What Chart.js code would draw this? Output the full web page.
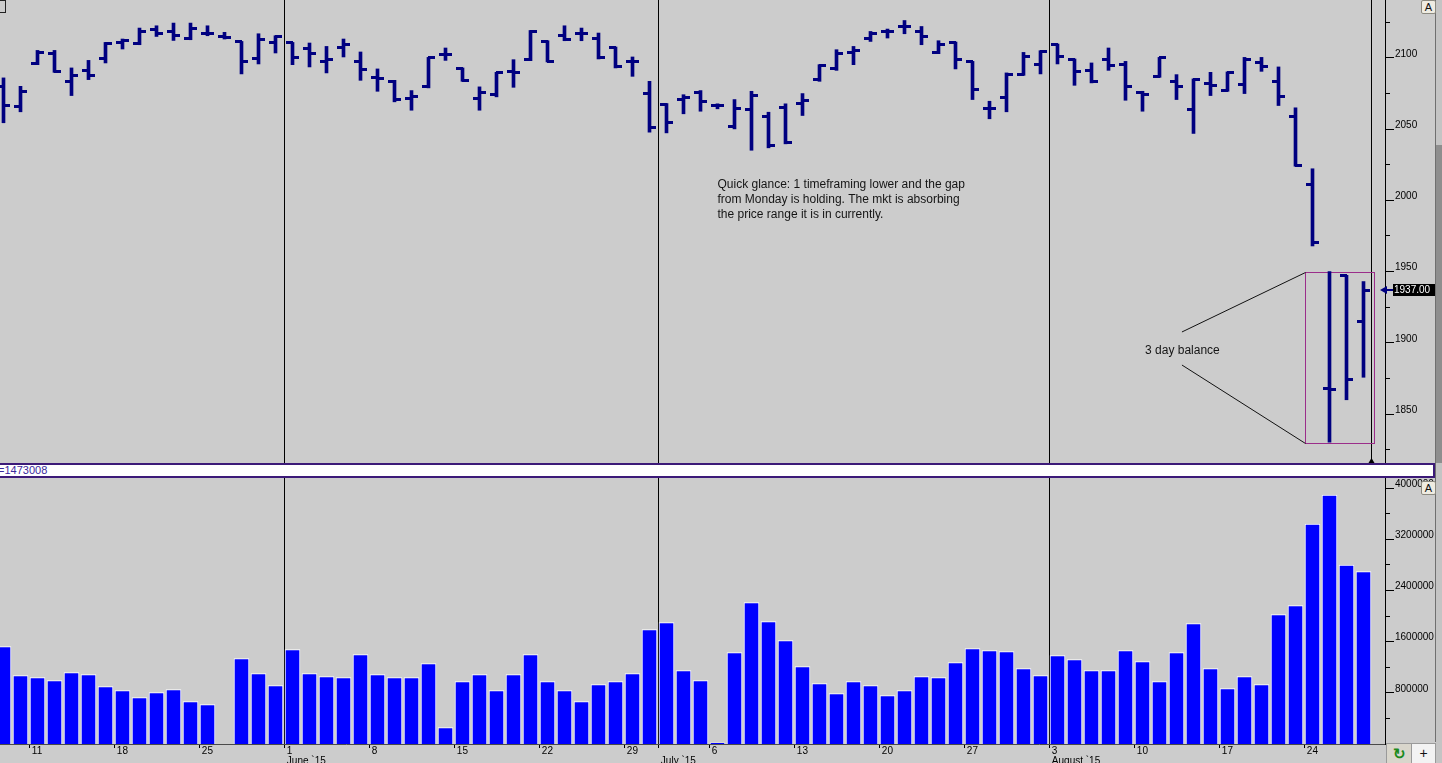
<!DOCTYPE html>
<html lang="en">
<head>
<meta charset="UTF-8">
<title>ES daily bars with volume</title>
<script src="https://cdn.jsdelivr.net/npm/chart.js@4.4.0/dist/chart.umd.min.js"></script>
<style>
  html, body { margin: 0; padding: 0; background: #cccccc; overflow: hidden; }
  body { width: 1442px; height: 763px; position: relative; font-family: 'Liberation Sans', Arial, sans-serif; }
  canvas { position: absolute; left: 0; }
  #priceChart { top: 0; }
  #volumeChart { top: 478px; }
  .divider {
    position: absolute; left: 0; top: 463px; width: 1433px; height: 11px;
    background: #fff; border: 2px solid #3c1a78; border-left: none;
    font-size: 11px; line-height: 11px; color: #3b2a9c; overflow: hidden; white-space: nowrap;
  }
  .divider span { position: relative; left: -2px; }
  .abtn {
    position: absolute; width: 13px; height: 12px; border: 1px solid #8c8a80; border-radius: 2px;
    background: #efece2; font-size: 11px; line-height: 12px; text-align: center; color: #111;
  }
  .corner { position: absolute; top: 743px; height: 19px; border: 1px solid #9a9a9a; text-align: center; line-height: 19px; }
  .refresh { left: 1386px; width: 24px; background: #d9d6cc; color: #1c8a1c; font-size: 15px; font-weight: bold; }
  .plus { left: 1411px; width: 23px; background: #f3f3f3; color: #111; font-size: 14px; }
  .edge { position: absolute; left: 1435px; top: 0; width: 1px; height: 742px; background: #6f6f6f; }
  .strip { position: absolute; left: 1436px; top: 0; width: 6px; height: 763px; background: #c4c4c4; }
  .strip-dark { position: absolute; left: 1436px; top: 145px; width: 6px; height: 318px; background: #8e8e8e; }
  .corner-mark { position: absolute; left: -3px; top: 0; width: 7px; height: 11px; border: 1px solid #222; }
</style>
</head>
<body>
<canvas id="priceChart" width="1442" height="463"></canvas>
<div class="divider"><span>=1473008</span></div>
<canvas id="volumeChart" width="1442" height="285"></canvas>
<div class="corner-mark"></div>
<div class="edge"></div>
<div class="strip"></div>
<div class="strip-dark"></div>
<div class="abtn" style="left:1421px; top:0;">A</div>
<div class="abtn" style="left:1421px; top:481px;">A</div>
<div class="corner refresh">&#8635;</div>
<div class="corner plus">+</div>

<script>
// trading days shown (one bar each)
const dates = [
  '2015-05-06','2015-05-07','2015-05-08',
  '2015-05-11','2015-05-12','2015-05-13','2015-05-14','2015-05-15',
  '2015-05-18','2015-05-19','2015-05-20','2015-05-21','2015-05-22',
  '2015-05-25','2015-05-26','2015-05-27','2015-05-28','2015-05-29',
  '2015-06-01','2015-06-02','2015-06-03','2015-06-04','2015-06-05',
  '2015-06-08','2015-06-09','2015-06-10','2015-06-11','2015-06-12',
  '2015-06-15','2015-06-16','2015-06-17','2015-06-18','2015-06-19',
  '2015-06-22','2015-06-23','2015-06-24','2015-06-25','2015-06-26',
  '2015-06-29','2015-06-30','2015-07-01','2015-07-02','2015-07-03',
  '2015-07-06','2015-07-07','2015-07-08','2015-07-09','2015-07-10',
  '2015-07-13','2015-07-14','2015-07-15','2015-07-16','2015-07-17',
  '2015-07-20','2015-07-21','2015-07-22','2015-07-23','2015-07-24',
  '2015-07-27','2015-07-28','2015-07-29','2015-07-30','2015-07-31',
  '2015-08-03','2015-08-04','2015-08-05','2015-08-06','2015-08-07',
  '2015-08-10','2015-08-11','2015-08-12','2015-08-13','2015-08-14',
  '2015-08-17','2015-08-18','2015-08-19','2015-08-20','2015-08-21',
  '2015-08-24','2015-08-25','2015-08-26'
];

const opens = [
  2080, 2065.7, 2096, 2102.8, 2083.6, 2091.1, 2099.5, 2111.2, 2110, 2120.3,
  2118.6, 2114, 2117, 2115, 2111.6, 2099.3, 2110.9, 2110.9, 2106.3, 2097.6,
  2107, 2097.2, 2086, 2083.6, 2071.3, 2079.7, 2102.3, 2092.5, 2071.3, 2074.3,
  2090.6, 2098.8, 2111.6, 2115.6, 2117.5, 2114, 2107.4, 2097.2, 2075, 2067.3,
  2071, 2075.5, 2066.8, 2051.6, 2063.8, 2058.7, 2065, 2067.8, 2084.8, 2092.3,
  2103.5, 2114, 2118.6, 2122.1, 2118.6, 2103.9, 2110.9, 2097.2, 2064.3, 2072,
  2088.3, 2095.3, 2109.3, 2098.8, 2091.3, 2098.8, 2095.3, 2075.5, 2086.7, 2083.6,
  2063.8, 2082, 2077.3, 2081.3, 2096.5, 2083.6, 2059.1, 2011.2, 1868, 1947,
  1914.7
];
const highs = [
  2086, 2080.1, 2105.3, 2105.3, 2093, 2098.3, 2110.9, 2113.3, 2121, 2122.6,
  2124.5, 2124.5, 2122.6, 2118, 2111.6, 2117, 2115.6, 2110.9, 2110.5, 2108.1,
  2113.3, 2104.2, 2092.3, 2084.3, 2077.1, 2100.4, 2107, 2093, 2079.7, 2089.9,
  2098.8, 2119.3, 2112.1, 2122.6, 2121, 2117.5, 2107.7, 2100.7, 2083.6, 2068,
  2074.2, 2077.1, 2067.8, 2070.8, 2076.6, 2061.9, 2067.8, 2075, 2095.3, 2105.8,
  2108.1, 2118.6, 2120.3, 2126.3, 2122.1, 2112.1, 2111.2, 2097.6, 2069.6, 2089.5,
  2103.9, 2105.1, 2109.8, 2099.3, 2096.5, 2107, 2097.6, 2076.6, 2100.4, 2088.3,
  2085.3, 2089.9, 2090.2, 2100.4, 2100.4, 2093.7, 2065, 2022.2, 1950, 1947.4,
  1943
];
const lows = [
  2054.5, 2062.2, 2095.3, 2089.9, 2073.6, 2084.8, 2096.5, 2106.3, 2109.3, 2115.1,
  2112.3, 2112.8, 2115.6, 2113.3, 2088.8, 2095.8, 2103.5, 2095.3, 2093.7, 2089.5,
  2100.7, 2084.3, 2076.6, 2069.2, 2063.3, 2079, 2098.3, 2083.6, 2063.3, 2072.7,
  2079.4, 2098.1, 2097.2, 2112.1, 2112.1, 2099.3, 2093, 2087.1, 2047.9, 2047.4,
  2060.8, 2062.6, 2064.3, 2050.2, 2035.2, 2036.9, 2039.7, 2059.6, 2083.6, 2091.3,
  2095.3, 2111.6, 2114, 2117, 2109.3, 2103, 2092.3, 2070.8, 2057.3, 2062.2,
  2087.8, 2088.8, 2095.8, 2080.8, 2082.5, 2091.3, 2070.3, 2062.6, 2086.4, 2070.8,
  2047, 2073.6, 2076.6, 2075, 2090.6, 2066.6, 2024, 1968, 1830.2, 1860,
  1875.8
];
const closes = [
  2066.8, 2076.6, 2103.5, 2090.2, 2087.6, 2087.6, 2110.5, 2112.1, 2118.6, 2117,
  2115.6, 2121, 2117, 2114.5, 2097.6, 2113.3, 2115.1, 2100, 2103, 2098.8,
  2109.3, 2091.8, 2085.5, 2070.8, 2072.7, 2100, 2102.3, 2084.3, 2075.9, 2089.5,
  2089.9, 2118.6, 2097.6, 2113.3, 2117.5, 2100, 2093.7, 2097.2, 2051, 2054.5,
  2072, 2069.6, 2066.8, 2064.5, 2073.6, 2038.5, 2040.4, 2070.3, 2094.6, 2103,
  2105.1, 2117, 2118.6, 2122.1, 2115.1, 2109.3, 2098.8, 2077.8, 2064.3, 2088.3,
  2101.1, 2104.6, 2101.1, 2090.6, 2083.2, 2094.8, 2079.7, 2074.3, 2100, 2079.7,
  2084.8, 2080.6, 2089.5, 2098.8, 2094.1, 2072.7, 2024.5, 1970.4, 1867, 1873.9,
  1937
];
const volumes = [
  1524000, 1071000, 1040000, 993000, 1118000, 1086000, 899000, 836000, 727000, 805000,
  852000, 664000, 617000, null, 1337000, 1102000, 915000, 1477000, 1102000, 1055000,
  1040000, 1399000, 1086000, 1040000, 1040000, 1258000, 258000, 977000, 1086000, 836000,
  1086000, 1399000, 977000, 836000, 664000, 930000, 977000, 1102000, 1790000, 1899000,
  1149000, 993000, 20000, 1430000, 2212000, 1915000, 1618000, 1212000, 946000, 789000,
  977000, 915000, 758000, 836000, 1055000, 1040000, 1274000, 1493000, 1462000, 1446000,
  1180000, 1071000, 1384000, 1321000, 1149000, 1149000, 1462000, 1290000, 977000, 1430000,
  1884000, 1180000, 868000, 1055000, 930000, 2024000, 2165000, 3438000, 3891000, 2797000,
  2697000
];

const priceTicks = [1825, 1850, 1875, 1900, 1925, 1950, 1975, 2000, 2025, 2050, 2075, 2100, 2125];
const volumeTicks = [400000, 800000, 1200000, 1600000, 2000000, 2400000, 2800000, 3200000, 3600000, 4000000];
const monthNames = ['January', 'February', 'March', 'April', 'May', 'June', 'July', 'August',
  'September', 'October', 'November', 'December'];

// axis ranges
const xMin = -3.5 / 17;
const xMax = xMin + 1385 / 17;
const priceMin = 1815.6, priceMax = 2140.7;
const volumeMax = 4160000;
const tickShift = 1.45;      // session boundary sits before the bar
const nowLine = 80.45;       // current-session marker

const barColor = '#000080';

Chart.defaults.font.family = "'Liberation Sans', Arial, sans-serif";
Chart.defaults.color = '#000';

// Monday and month-start ticks
const dateTicks = [];
dates.forEach((d, i) => {
  const dt = new Date(d + 'T00:00:00Z');
  const isMonday = dt.getUTCDay() === 1;
  const newMonth = i > 0 && dates[i - 1].slice(5, 7) !== d.slice(5, 7);
  if (!isMonday && !newMonth) return;
  const label = [isMonday ? String(dt.getUTCDate()) : ''];
  if (newMonth) label.push(monthNames[dt.getUTCMonth()] + ' `15');
  dateTicks.push({ value: i - tickShift, label: label, month: newMonth });
});
const priceLines = dateTicks.filter(t => t.month).map(t => t.value).concat([nowLine]);

// open / close tick marks as point images
function tickImage(side) {
  const c = document.createElement('canvas');
  c.width = 15; c.height = 3;
  const g = c.getContext('2d');
  g.fillStyle = barColor;
  if (side === 'left') g.fillRect(1, 0, 7, 3); else g.fillRect(7, 0, 7, 3);
  return c;
}
const openMark = tickImage('left');
const closeMark = tickImage('right');

// annotations drawn in data coordinates
const noteLines = [
  'Quick glance: 1 timeframing lower and the gap',
  'from Monday is holding. The mkt is absorbing',
  'the price range it is in currently.'
];
const noteAt = { x: 42, y: 2008.7 };
const balanceAt = { x: 67.15, y: 1894.6 };
const box = { from: 76.56, to: 80.62, high: 1950, low: 1829.6 };
const pointerStarts = [{ x: 69.32, y: 1907.6 }, { x: 69.32, y: 1884.4 }];

const priceNotes = {
  id: 'priceNotes',
  beforeDatasetsDraw(chart) {
    const { ctx, scales: { x, y } } = chart;
    const x1 = Math.round(x.getPixelForValue(box.from)) + 0.5;
    const x2 = Math.round(x.getPixelForValue(box.to)) + 0.5;
    const y1 = Math.round(y.getPixelForValue(box.high)) + 0.5;
    const y2 = Math.round(y.getPixelForValue(box.low)) + 0.5;
    ctx.save();
    ctx.strokeStyle = '#9b2d8a';
    ctx.lineWidth = 1;
    ctx.strokeRect(x1, y1, x2 - x1, y2 - y1);
    ctx.strokeStyle = '#111';
    ctx.beginPath();
    ctx.moveTo(x.getPixelForValue(pointerStarts[0].x), y.getPixelForValue(pointerStarts[0].y));
    ctx.lineTo(x1, y1);
    ctx.moveTo(x.getPixelForValue(pointerStarts[1].x), y.getPixelForValue(pointerStarts[1].y));
    ctx.lineTo(x1, y2);
    ctx.stroke();
    ctx.restore();
  },
  afterDraw(chart) {
    const { ctx, scales: { x, y }, chartArea } = chart;
    ctx.save();
    ctx.fillStyle = '#151515';
    ctx.font = "12px 'Liberation Sans', Arial, sans-serif";
    ctx.textBaseline = 'alphabetic';
    const nx = x.getPixelForValue(noteAt.x);
    const ny = y.getPixelForValue(noteAt.y);
    noteLines.forEach((t, k) => ctx.fillText(t, nx, ny + k * 15));
    ctx.textBaseline = 'middle';
    ctx.fillText('3 day balance', x.getPixelForValue(balanceAt.x), y.getPixelForValue(balanceAt.y));

    // last price marker on the axis
    const last = closes[closes.length - 1];
    const py = Math.round(y.getPixelForValue(last));
    const left = y.left;
    ctx.fillStyle = barColor;
    ctx.beginPath();
    ctx.moveTo(left - 5, py);
    ctx.lineTo(left + 2, py - 4);
    ctx.lineTo(left + 2, py + 4);
    ctx.closePath();
    ctx.fill();
    ctx.fillRect(left + 2, py - 1, 6, 2);
    ctx.fillStyle = '#000';
    ctx.fillRect(left + 8, py - 6, 42, 12);
    ctx.fillStyle = '#fff';
    ctx.font = "10px 'Liberation Sans', Arial, sans-serif";
    ctx.fillText(last.toFixed(2), left + 9, py + 0.5);

    // little arrow under the current-session line
    const nx2 = Math.round(x.getPixelForValue(nowLine)) + 0.5;
    ctx.fillStyle = '#000';
    ctx.beginPath();
    ctx.moveTo(nx2, chartArea.bottom - 5);
    ctx.lineTo(nx2 - 3, chartArea.bottom);
    ctx.lineTo(nx2 + 3, chartArea.bottom);
    ctx.closePath();
    ctx.fill();
    ctx.restore();
  }
};

function priceAxis() {
  return {
    type: 'linear', position: 'right', min: priceMin, max: priceMax,
    afterBuildTicks: s => { s.ticks = priceTicks.map(v => ({ value: v })); },
    afterFit: s => { s.width = 57; s.paddingTop = 0; s.paddingBottom = 0; },
    ticks: { padding: 1, labelOffset: -4, font: { size: 10 }, callback: v => v % 50 === 0 ? String(v) : '' },
    grid: {
      drawOnChartArea: false, tickLength: 9, tickColor: '#000',
      tickBorderDash: c => (c.tick && c.tick.value % 50 !== 0) ? [4, 20] : []
    },
    border: { color: '#000', width: 1 }
  };
}

new Chart(document.getElementById('priceChart'), {
  type: 'bar',
  data: {
    datasets: [
      {
        type: 'bar',
        data: dates.map((d, i) => ({ x: i, y: [lows[i], highs[i]] })),
        backgroundColor: barColor,
        borderWidth: 0,
        barThickness: 3
      },
      {
        type: 'scatter',
        data: dates.map((d, i) => ({ x: i, y: opens[i] })),
        pointStyle: openMark,
        pointRadius: 3
      },
      {
        type: 'scatter',
        data: dates.map((d, i) => ({ x: i, y: closes[i] })),
        pointStyle: closeMark,
        pointRadius: 3
      }
    ]
  },
  options: {
    responsive: false,
    animation: false,
    events: [],
    layout: { padding: 0, autoPadding: false },
    plugins: { legend: { display: false }, tooltip: { enabled: false } },
    scales: {
      x: {
        type: 'linear', min: xMin, max: xMax, offset: false, position: 'bottom',
        afterBuildTicks: s => { s.ticks = priceLines.map(v => ({ value: v })); },
        afterFit: s => { s.height = 0; s.paddingLeft = 0; s.paddingRight = 0; },
        ticks: { display: false },
        grid: { offset: false, drawTicks: false, color: '#000', lineWidth: 1 },
        border: { display: false }
      },
      y: priceAxis()
    }
  },
  plugins: [priceNotes]
});

new Chart(document.getElementById('volumeChart'), {
  type: 'bar',
  data: {
    datasets: [{
      data: dates.map((d, i) => ({ x: i, y: volumes[i] })),
      backgroundColor: '#0000ff',
      borderColor: '#ffffff',
      borderWidth: 1,
      barThickness: 15
    }]
  },
  options: {
    responsive: false,
    animation: false,
    events: [],
    layout: { padding: 0, autoPadding: false },
    plugins: { legend: { display: false }, tooltip: { enabled: false } },
    scales: {
      x: {
        type: 'linear', min: xMin, max: xMax, offset: false, position: 'bottom',
        afterBuildTicks: s => { s.ticks = dateTicks.map(t => ({ value: t.value })); },
        afterFit: s => { s.height = 19; s.paddingLeft = 0; s.paddingRight = 0; },
        ticks: {
          autoSkip: false, maxRotation: 0, minRotation: 0, align: 'start',
          labelOffset: 2, padding: -2, font: { size: 10, lineHeight: 1.0 },
          callback: (v, i) => dateTicks[i].label
        },
        grid: {
          offset: false, lineWidth: 1, tickLength: 4, tickColor: '#000',
          color: c => (dateTicks[c.index] && dateTicks[c.index].month) ? '#000' : 'rgba(0,0,0,0)'
        },
        border: { display: true, color: '#4a4a4a', width: 1 }
      },
      y: {
        type: 'linear', position: 'right', min: 0, max: volumeMax,
        afterBuildTicks: s => { s.ticks = volumeTicks.map(v => ({ value: v })); },
        afterFit: s => { s.width = 57; s.paddingTop = 0; s.paddingBottom = 0; },
        ticks: { padding: 1, labelOffset: -4, font: { size: 10 }, callback: v => v % 800000 === 0 ? String(v) : '' },
        grid: {
          drawOnChartArea: false, tickLength: 9, tickColor: '#000',
          tickBorderDash: c => (c.tick && c.tick.value % 800000 !== 0) ? [4, 20] : []
        },
        border: { color: '#000', width: 1 }
      }
    }
  }
});
</script>
</body>
</html>
